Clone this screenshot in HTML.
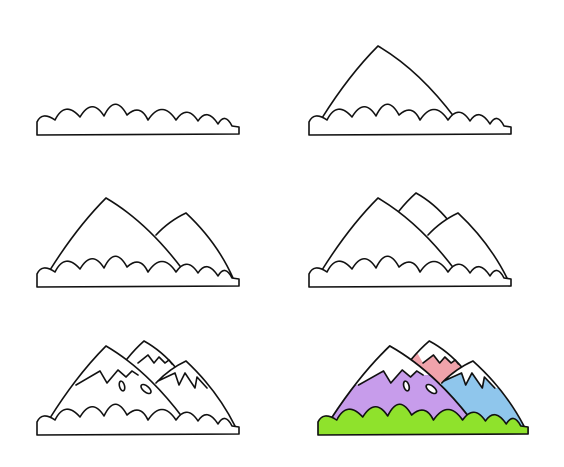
<!DOCTYPE html>
<html><head><meta charset="utf-8"><style>html,body{margin:0;padding:0;background:#fff}svg{display:block}</style></head>
<body>
<svg width="564" height="467" viewBox="0 0 564 467" xmlns="http://www.w3.org/2000/svg">
<defs>
<path id="bush" d="M0,0 L0,-13 Q5,-24 18,-15 Q28,-35 43,-18 Q55,-38 67,-19 Q78,-42 90,-20 Q103,-32 111,-15 Q125,-36 139,-15 Q150,-31 161,-14 Q170,-28 181,-11 Q188,-23 195,-9 L202,-8 L202,-1 Z"/>
<path id="leftM" d="M13,-17 Q40,-60 69,-89 Q110,-65 146,-17"/>
<path id="rightM" d="M119,-52 Q132,-66 149,-74 Q180,-45 198,-9"/>
<path id="backM" d="M90,-76 Q98,-86 107,-94 Q125,-84 139,-67"/>
<path id="snowL" d="M39,-50 L63,-64 L70,-52 L81,-65 L89,-58 L95,-64 L101,-60"/>
<path id="snowB" d="M101,-72 L111,-80 L117,-72 L122,-78 L128,-72 L132,-75 L135,-71"/>
<path id="snowR" d="M121,-54 L138,-62 L142,-50 L148,-62 L158,-47 L160,-58 L170,-47"/>
<clipPath id="clipL"><path d="M13,-17 Q40,-60 69,-89 Q110,-65 146,-17 Z"/></clipPath>
<clipPath id="clipR"><path d="M119,-52 Q132,-66 149,-74 Q180,-45 198,-9 L110,-9 Z"/></clipPath>
<clipPath id="clipB"><path d="M90,-76 Q98,-86 107,-94 Q125,-84 139,-67 L100,-40 Z"/></clipPath>
</defs>
<g fill="none" stroke="#111" stroke-width="1.6" stroke-linejoin="round" stroke-linecap="round">
<g transform="translate(37,135)">
<use href="#bush" fill="#fff"/>
</g>
<g transform="translate(309,135)">
<use href="#leftM"/><use href="#bush" fill="#fff"/>
</g>
<g transform="translate(37,287)">
<path d="M119,-52 Q132,-66 149,-74 Q180,-45 196,-9"/>
<use href="#leftM" fill="#fff"/><use href="#bush" fill="#fff"/>
</g>
<g transform="translate(309,287)">
<use href="#backM"/><use href="#rightM" fill="#fff"/>
<use href="#leftM" fill="#fff"/><use href="#bush" fill="#fff"/>
</g>
<g transform="translate(37,435)">
<use href="#backM"/><use href="#snowB"/>
<use href="#rightM" fill="#fff"/><use href="#snowR"/>
<use href="#leftM" fill="#fff"/><use href="#snowL"/>
<ellipse cx="85" cy="-49" rx="2.5" ry="5" transform="rotate(-15 85 -49)"/>
<ellipse cx="109" cy="-46" rx="6" ry="3" transform="rotate(40 109 -46)"/>
<use href="#bush" fill="#fff"/>
</g>
<g transform="translate(318,435) scale(1.04,1)">
<path d="M90,-76 Q98,-86 107,-94 Q125,-84 139,-67 L100,-40 Z" fill="#f0a3ab" stroke="none"/>
<path d="M101,-72 L111,-80 L117,-72 L122,-78 L128,-72 L132,-75 L135,-71 L150,-110 L80,-110 Z" fill="#fff" stroke="none" clip-path="url(#clipB)"/>
<use href="#backM"/><use href="#snowB"/>
<path d="M119,-52 Q132,-66 149,-74 Q180,-45 198,-9 L110,-9 Z" fill="#8fc6ec" stroke="none"/>
<path d="M121,-54 L138,-62 L142,-50 L148,-62 L158,-47 L160,-58 L170,-47 L200,-47 L200,-110 L110,-110 L110,-54 Z" fill="#fff" stroke="none" clip-path="url(#clipR)"/>
<use href="#rightM"/><use href="#snowR"/>
<use href="#leftM" fill="#c79ceb"/>
<path d="M39,-50 L63,-64 L70,-52 L81,-65 L89,-58 L95,-64 L101,-60 L120,-60 L120,-110 L20,-110 L20,-50 Z" fill="#fff" stroke="none" clip-path="url(#clipL)"/>
<use href="#leftM"/><use href="#snowL"/>
<ellipse cx="85" cy="-49" rx="2.5" ry="5" fill="#fff" transform="rotate(-15 85 -49)"/>
<ellipse cx="109" cy="-46" rx="6" ry="3" fill="#fff" transform="rotate(40 109 -46)"/>
<use href="#bush" fill="#8fe22c"/>
</g>
</g>
</svg>
</body></html>
